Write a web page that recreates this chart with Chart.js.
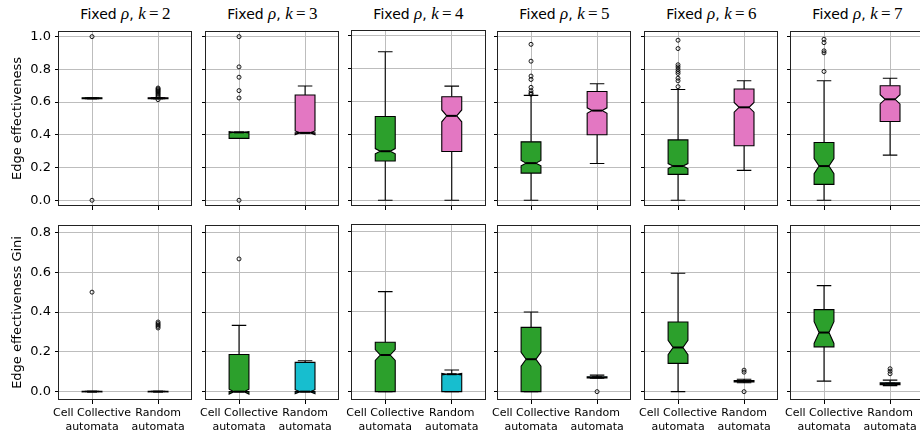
<!DOCTYPE html>
<html>
<head>
<meta charset="utf-8">
<script src="https://cdn.jsdelivr.net/npm/chart.js@4.4.0/dist/chart.umd.min.js"></script>
<style>
  html, body { margin: 0; padding: 0; background: #fff; }
  #fig { position: relative; width: 920px; height: 437px; overflow: hidden; }
  #fig canvas { position: absolute; }
  .title { position: absolute; top: 5px; width: 133px; text-align: center; white-space: nowrap;
           font: 14px "DejaVu Sans", sans-serif; line-height: 18px; color: #000; }
  .title .m { font-family: "Liberation Serif", serif; font-size: 17px; }
</style>
</head>
<body>
<div id="fig"></div>
<script>
const kValues = [2, 3, 4, 5, 6, 7];
const categories = [["Cell Collective", "automata"], ["Random", "automata"]];
const yTicksTop = [0, 0.2, 0.4, 0.6, 0.8, 1.0];
const yTicksBottom = [0, 0.2, 0.4, 0.6, 0.8];

// edge effectiveness, one [cell collective, random] pair per k
const effWhiskerLo = [[0.620, 0.620], [0.378, 0.412], [0.000, 0.000], [0.000, 0.225], [0.000, 0.183], [0.000, 0.276]];
const effQ1        = [[0.620, 0.620], [0.378, 0.412], [0.239, 0.296], [0.166, 0.400], [0.158, 0.333], [0.097, 0.481]];
const effMedian    = [[0.623, 0.623], [0.415, 0.412], [0.298, 0.513], [0.227, 0.548], [0.209, 0.568], [0.209, 0.617]];
const effQ3        = [[0.626, 0.626], [0.415, 0.643], [0.509, 0.629], [0.357, 0.665], [0.369, 0.680], [0.353, 0.700]];
const effWhiskerHi = [[0.626, 0.628], [0.415, 0.698], [0.903, 0.694], [0.641, 0.712], [0.677, 0.730], [0.730, 0.746]];
const effNotch     = [[0.001, 0.001], [0.004, 0.012], [0.016, 0.036], [0.016, 0.017], [0.015, 0.030], [0.046, 0.028]];
const effOutliers = [
  [[1.0, 0.0], [0.615, 0.632, 0.640, 0.648, 0.655, 0.662, 0.668, 0.674, 0.680, 0.686]],
  [[1.0, 0.815, 0.752, 0.670, 0.625, 0.0], []],
  [[], []],
  [[0.953, 0.850, 0.759, 0.738, 0.690, 0.669, 0.655, 0.648], []],
  [[0.978, 0.927, 0.828, 0.815, 0.801, 0.787, 0.775, 0.746, 0.730, 0.694], []],
  [[0.984, 0.963, 0.913, 0.901, 0.787], []]
];

// edge effectiveness gini
const giniWhiskerLo = [[0.000, 0.000], [0.000, 0.000], [0.000, 0.000], [0.000, 0.068], [0.000, 0.045], [0.053, 0.030]];
const giniQ1        = [[0.000, 0.000], [0.000, 0.000], [0.000, 0.000], [0.000, 0.069], [0.142, 0.049], [0.225, 0.035]];
const giniMedian    = [[0.000, 0.000], [0.000, 0.000], [0.183, 0.087], [0.163, 0.072], [0.222, 0.052], [0.297, 0.040]];
const giniQ3        = [[0.002, 0.002], [0.187, 0.147], [0.247, 0.087], [0.323, 0.075], [0.350, 0.056], [0.412, 0.045]];
const giniWhiskerHi = [[0.002, 0.002], [0.333, 0.155], [0.500, 0.108], [0.400, 0.083], [0.595, 0.062], [0.533, 0.058]];
const giniNotch     = [[0.001, 0.001], [0.012, 0.010], [0.027, 0.004], [0.035, 0.001], [0.036, 0.002], [0.055, 0.002]];
const giniOutliers = [
  [[0.5], [0.350, 0.342, 0.335, 0.328, 0.320]],
  [[0.667], []],
  [[], []],
  [[], [0.0]],
  [[], [0.108, 0.098, 0.0]],
  [[], [0.115, 0.103, 0.090]]
];

const FONT = "'DejaVu Sans', sans-serif";
const GRID = '#bdbdbd';
Chart.defaults.font.family = FONT;

const rows = [
  { label: 'Edge effectiveness', min: -0.035, max: 1.035, ticks: yTicksTop,
    lo: effWhiskerLo, q1: effQ1, med: effMedian, q3: effQ3, hi: effWhiskerHi, notch: effNotch, out: effOutliers,
    colors: ['#2ca02c', '#e377c2'] },
  { label: 'Edge effectiveness Gini', min: -0.042, max: 0.838, ticks: yTicksBottom,
    lo: giniWhiskerLo, q1: giniQ1, med: giniMedian, q3: giniQ3, hi: giniWhiskerHi, notch: giniNotch, out: giniOutliers,
    colors: ['#2ca02c', '#17becf'] }
];

// notched box plots drawn from the stats through the chart scales
const boxPlugin = {
  id: 'boxes',
  beforeDatasetsDraw(chart, args, opts) {
    const { ctx, scales: { x, y } } = chart;
    const unit = x.getPixelForValue(2) - x.getPixelForValue(1);
    const py = v => y.getPixelForValue(v);
    opts.stats.forEach((s, i) => {
      const cx = x.getPixelForValue(i + 1);
      const w = unit * 0.3, L = cx - w / 2, R = cx + w / 2, ni = w / 4, cw = unit * 0.11;
      ctx.save();
      ctx.strokeStyle = '#000';
      ctx.lineWidth = 1.1;
      ctx.beginPath();
      ctx.moveTo(cx, py(s.q1)); ctx.lineTo(cx, py(s.lo));
      ctx.moveTo(cx, py(s.q3)); ctx.lineTo(cx, py(s.hi));
      ctx.moveTo(cx - cw, py(s.lo)); ctx.lineTo(cx + cw, py(s.lo));
      ctx.moveTo(cx - cw, py(s.hi)); ctx.lineTo(cx + cw, py(s.hi));
      ctx.stroke();

      const nlo = s.med - s.notch, nhi = s.med + s.notch;
      ctx.beginPath();
      ctx.moveTo(L, py(s.q1));
      ctx.lineTo(R, py(s.q1));
      ctx.lineTo(R, py(nlo));
      ctx.lineTo(R - ni, py(s.med));
      ctx.lineTo(R, py(nhi));
      ctx.lineTo(R, py(s.q3));
      ctx.lineTo(L, py(s.q3));
      ctx.lineTo(L, py(nhi));
      ctx.lineTo(L + ni, py(s.med));
      ctx.lineTo(L, py(nlo));
      ctx.closePath();
      ctx.fillStyle = s.color;
      ctx.fill();
      ctx.stroke();

      ctx.lineWidth = 2;
      ctx.beginPath();
      ctx.moveTo(L + ni, py(s.med));
      ctx.lineTo(R - ni, py(s.med));
      ctx.stroke();
      ctx.restore();
    });
  },
  afterDraw(chart) {
    const { ctx, chartArea: a } = chart;
    ctx.save();
    ctx.strokeStyle = '#222';
    ctx.lineWidth = 1;
    ctx.strokeRect(Math.round(a.left) - 0.5, Math.round(a.top) + 0.5,
                   Math.round(a.right - a.left) + 1, Math.round(a.bottom - a.top) - 1);
    ctx.restore();
  }
};

const fig = document.getElementById('fig');
const plotLeft = [59, 206, 352, 498, 645, 791];
const plotTop = [30, 224];
const PW = 133, PH = 176;

rows.forEach((row, r) => {
  kValues.forEach((k, c) => {
    if (r === 0) {
      const t = document.createElement('div');
      t.className = 'title';
      t.style.left = plotLeft[c] + 'px';
      t.innerHTML = 'Fixed <span class="m"><i>ρ</i></span>, <span class="m"><i>k</i>&#8201;=&#8201;' + k + '</span>';
      fig.appendChild(t);
    }
    const padL = c === 0 ? 59 : 10, padB = r === 0 ? 8 : 40, padT = 2, padR = 2;
    const cv = document.createElement('canvas');
    cv.width = padL + PW + padR;
    cv.height = padT + PH + padB;
    cv.style.left = (plotLeft[c] - padL) + 'px';
    cv.style.top = (plotTop[r] - padT) + 'px';
    cv.style.width = cv.width + 'px';
    cv.style.height = cv.height + 'px';
    fig.appendChild(cv);

    const stats = [0, 1].map(j => ({
      lo: row.lo[c][j], q1: row.q1[c][j], med: row.med[c][j], q3: row.q3[c][j],
      hi: row.hi[c][j], notch: row.notch[c][j], color: row.colors[j]
    }));

    new Chart(cv, {
      type: 'scatter',
      data: {
        datasets: [0, 1].map(j => ({
          data: row.out[c][j].map(v => ({ x: j + 1, y: v })),
          pointRadius: 2,
          pointHoverRadius: 2,
          pointBorderWidth: 0.9,
          borderColor: '#000',
          backgroundColor: 'rgba(255,255,255,0)'
        }))
      },
      options: {
        responsive: false,
        animation: false,
        devicePixelRatio: 1,
        events: [],
        layout: { padding: { top: padT, right: padR, left: 0, bottom: 0 } },
        plugins: { legend: { display: false }, tooltip: { enabled: false }, boxes: { stats } },
        scales: {
          x: {
            type: 'linear', min: 0.5, max: 2.5,
            afterBuildTicks: s => { s.ticks = [{ value: 1 }, { value: 2 }]; },
            afterFit: s => { s.height = padB; s.paddingLeft = 0; s.paddingRight = 0; },
            border: { display: false },
            grid: { color: GRID, lineWidth: 1, tickColor: '#000', tickLength: 4 },
            ticks: { display: r === 1, callback: v => categories[v - 1], color: '#000',
                     font: { size: 11 }, padding: 3, maxRotation: 0, autoSkip: false }
          },
          y: {
            min: row.min, max: row.max,
            afterBuildTicks: s => { s.ticks = row.ticks.map(v => ({ value: v })); },
            afterFit: s => { s.width = padL; s.paddingTop = 0; s.paddingBottom = 0; },
            border: { display: false },
            grid: { color: GRID, lineWidth: 1, tickColor: '#000', tickLength: 4 },
            ticks: { display: c === 0, callback: v => v.toFixed(1), color: '#000',
                     font: { size: 13 }, padding: 4 },
            title: { display: c === 0, text: row.label, color: '#000',
                     font: { size: 13 }, padding: { top: 10, bottom: 0 } }
          }
        }
      },
      plugins: [boxPlugin]
    });
  });
});
</script>
</body>
</html>
